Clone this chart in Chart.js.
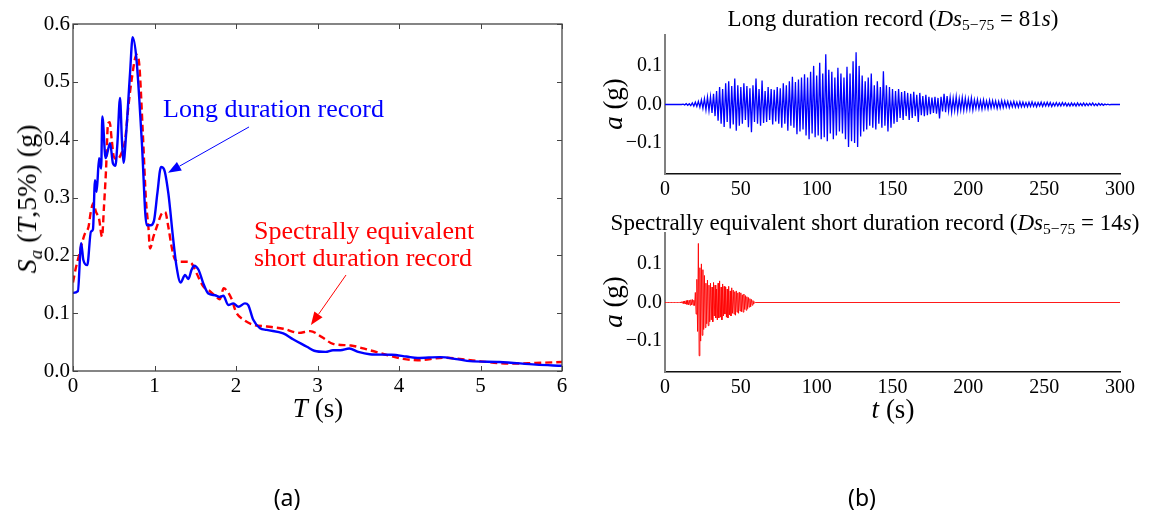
<!DOCTYPE html>
<html>
<head>
<meta charset="utf-8">
<script src="https://cdn.jsdelivr.net/npm/chart.js@4.4.0/dist/chart.umd.min.js"></script>
<style>
body { margin: 0; background: #fff; }
#fig { position: relative; width: 1152px; height: 515px; overflow: hidden; font-family: 'Liberation Serif', serif; color: #000; }
canvas { position: absolute; }
.lbl { position: absolute; white-space: nowrap; transform: translate(-50%, -50%); line-height: 1; }
.rot { transform: translate(-50%, -50%) rotate(-90deg); }
.left { transform: translate(0, -50%); }
sub { font-size: 68%; vertical-align: -0.3em; line-height: 0; }
.cap { font-family: 'Noto Sans', sans-serif; font-size: 23px; }
</style>
</head>
<body>
<div id="fig">
  <canvas id="spectra" width="600" height="430" style="left:0;top:0"></canvas>
  <canvas id="longRec" width="552" height="215" style="left:600px;top:0"></canvas>
  <canvas id="shortRec" width="552" height="215" style="left:600px;top:215px"></canvas>

  <div class="lbl rot" style="left:27px;top:199px;font-size:28px"><i>S<sub>a</sub></i> (<i>T</i>,5%) (g)</div>
  <div class="lbl" style="left:318px;top:408px;font-size:27px"><i>T</i> (s)</div>
  <div class="lbl left" style="left:163px;top:109px;font-size:26px;color:#0000ff">Long duration record</div>
  <div class="lbl left" style="left:254px;top:231px;font-size:26px;color:#ff0000">Spectrally equivalent</div>
  <div class="lbl left" style="left:254px;top:258px;font-size:26px;color:#ff0000">short duration record</div>

  <div class="lbl" style="left:893px;top:18px;font-size:23px">Long duration record (<i>Ds</i><sub>5−75</sub> = 81<i>s</i>)</div>
  <div class="lbl" style="left:875px;top:222px;font-size:23px">Spectrally equivalent short duration record (<i>Ds</i><sub>5−75</sub> = 14<i>s</i>)</div>
  <div class="lbl rot" style="left:613px;top:104px;font-size:27px"><i>a</i> (g)</div>
  <div class="lbl rot" style="left:613px;top:302px;font-size:27px"><i>a</i> (g)</div>
  <div class="lbl" style="left:893px;top:409px;font-size:27px"><i>t</i> (s)</div>

  <div class="lbl cap" style="left:287px;top:497px">(a)</div>
  <div class="lbl cap" style="left:862px;top:497px">(b)</div>
</div>
<script>
// (a) response spectra, Sa(T,5%) in g
const longT = [0, 0.06, 0.10, 0.127, 0.175, 0.22, 0.245, 0.27, 0.29, 0.32, 0.345, 0.36, 0.40, 0.455, 0.49, 0.52,
  0.545, 0.577, 0.60, 0.62, 0.65, 0.70, 0.732, 0.78, 0.843, 0.904, 0.953, 0.994, 1.035, 1.08, 1.117, 1.17,
  1.23, 1.27, 1.32, 1.375, 1.415, 1.455, 1.485, 1.54, 1.60, 1.66, 1.743, 1.80, 1.845, 1.905, 1.967, 2.03,
  2.11, 2.15, 2.21, 2.295, 2.376, 2.58, 2.70, 2.87, 2.96, 3.10, 3.19, 3.28, 3.39, 3.50, 3.64, 3.91, 4.09,
  4.23, 4.5, 4.73, 4.87, 5.23, 5.68, 6.0];
const longSa = [0.135, 0.138, 0.221, 0.192, 0.183, 0.241, 0.245, 0.33, 0.31, 0.368, 0.35, 0.44, 0.368, 0.394, 0.359, 0.355,
  0.394, 0.472, 0.40, 0.36, 0.406, 0.515, 0.577, 0.537, 0.40, 0.252, 0.252, 0.26, 0.307, 0.353, 0.349, 0.307,
  0.227, 0.181, 0.153, 0.166, 0.159, 0.175, 0.182, 0.175, 0.151, 0.134, 0.131, 0.128, 0.13, 0.114, 0.117, 0.111,
  0.117, 0.114, 0.089, 0.074, 0.071, 0.065, 0.055, 0.042, 0.035, 0.033, 0.036, 0.036, 0.039, 0.033, 0.029, 0.028, 0.025,
  0.0225, 0.024, 0.02, 0.017, 0.0156, 0.011, 0.009];

const shortT = [0, 0.03, 0.07, 0.11, 0.147, 0.19, 0.218, 0.25, 0.282, 0.32, 0.356, 0.38, 0.405, 0.43, 0.45, 0.475,
  0.50, 0.54, 0.596, 0.64, 0.68, 0.72, 0.78, 0.813, 0.855, 0.895, 0.925, 0.945, 0.986, 1.027, 1.088, 1.13,
  1.17, 1.21, 1.25, 1.31, 1.395, 1.455, 1.516, 1.60, 1.68, 1.76, 1.80, 1.85, 1.88, 1.945, 2.0, 2.09,
  2.21, 2.38, 2.58, 2.77, 2.91, 3.05, 3.19, 3.41, 3.64, 3.87, 4.05, 4.23, 4.55, 4.82, 5.0, 5.37, 5.68, 6.0];
const shortSa = [0.153, 0.175, 0.198, 0.221, 0.238, 0.249, 0.275, 0.29, 0.275, 0.263, 0.232, 0.284, 0.347, 0.428, 0.43, 0.40,
  0.371, 0.366, 0.377, 0.40, 0.458, 0.504, 0.547, 0.53, 0.417, 0.296, 0.249, 0.212, 0.232, 0.249, 0.272, 0.275,
  0.249, 0.215, 0.193, 0.189, 0.189, 0.186, 0.169, 0.146, 0.138, 0.128, 0.124, 0.143, 0.14, 0.125, 0.102, 0.089,
  0.08, 0.077, 0.073, 0.066, 0.069, 0.059, 0.047, 0.044, 0.036, 0.027, 0.021, 0.0185, 0.023, 0.0196, 0.0167, 0.0127, 0.014, 0.0156];

const periodTicks = [0, 1, 2, 3, 4, 5, 6];
const saTicks = [0, 0.1, 0.2, 0.3, 0.4, 0.5, 0.6];

// (b) acceleration records in g, read peak by peak
const longDt = 1; // s
const longAccel = [
  0, 0, 0, 0, 0, 0, 0, 0, 0, 0,
  0, 0, 0.001, -0.001, 0.002, -0.002, 0.002, -0.003, 0.004, -0.004,
  0.006, -0.005, 0.008, -0.007, 0.012, -0.01, 0.015, -0.014, 0.019, -0.016,
  0.02, -0.022, 0.028, -0.03, 0.035, -0.042, 0.045, -0.05, 0.04, -0.058,
  0.055, -0.045, 0.06, -0.062, 0.048, -0.052, 0.067, -0.068, 0.05, -0.055,
  0.045, -0.05, 0.055, -0.04, 0.048, -0.059, 0.042, -0.072, 0.05, -0.045,
  0.067, -0.05, 0.04, -0.055, 0.062, -0.048, 0.035, -0.045, 0.045, -0.04,
  0.04, -0.052, 0.038, -0.044, 0.045, -0.05, 0.042, -0.06, 0.055, -0.05,
  0.05, -0.068, 0.06, -0.055, 0.072, -0.06, 0.058, -0.077, 0.065, -0.07,
  0.07, -0.065, 0.078, -0.08, 0.07, -0.09, 0.085, -0.075, 0.1, -0.085,
  0.075, -0.08, 0.108, -0.09, 0.08, -0.085, 0.13, -0.095, 0.09, -0.075,
  0.085, -0.09, 0.07, -0.08, 0.095, -0.07, 0.08, -0.075, 0.07, -0.09,
  0.098, -0.11, 0.08, -0.095, 0.112, -0.1, 0.135, -0.11, 0.1, -0.083,
  0.075, -0.07, 0.06, -0.065, 0.07, -0.055, 0.08, -0.06, 0.05, -0.065,
  0.06, -0.05, 0.045, -0.06, 0.086, -0.055, 0.05, -0.07, 0.045, -0.06,
  0.04, -0.05, 0.035, -0.045, 0.04, -0.035, 0.032, -0.04, 0.035, -0.03,
  0.03, -0.04, 0.028, -0.035, 0.033, -0.03, 0.025, -0.045, 0.03, -0.028,
  0.022, -0.03, 0.025, -0.028, 0.02, -0.025, 0.018, -0.022, 0.02, -0.024,
  0.017, -0.036, 0.02, -0.018, 0.028, -0.02, 0.022, -0.016, 0.018, -0.02,
  0.016, -0.015, 0.02, -0.018, 0.015, -0.014, 0.018, -0.015, 0.016, -0.013,
  0.014, -0.012, 0.017, -0.014, 0.012, -0.01, 0.013, -0.011, 0.01, -0.012,
  0.012, -0.01, 0.009, -0.011, 0.011, -0.009, 0.01, -0.008, 0.009, -0.01,
  0.008, -0.009, 0.01, -0.008, 0.009, -0.007, 0.008, -0.008, 0.007, -0.006,
  0.008, -0.007, 0.006, -0.007, 0.007, -0.006, 0.006, -0.006, 0.005, -0.006,
  0.006, -0.005, 0.007, -0.005, 0.005, -0.006, 0.005, -0.004, 0.006, -0.005,
  0.005, -0.004, 0.006, -0.004, 0.005, -0.005, 0.004, -0.004, 0.005, -0.004,
  0.004, -0.004, 0.005, -0.003, 0.004, -0.004, 0.003, -0.004, 0.004, -0.003,
  0.003, -0.004, 0.004, -0.003, 0.003, -0.003, 0.004, -0.003, 0.003, -0.003,
  0.003, -0.002, 0.004, -0.003, 0.002, -0.003, 0.003, -0.002, 0.002, -0.002,
  0.001, -0.001, 0.001, -0.001, 0, 0, 0, 0, 0, 0, 0
];

const shortDt = 0.5; // s
const shortAccel = [
  0, 0, 0, 0, 0, 0, 0, 0, 0, 0, 0, 0, 0, 0, 0, 0, 0, 0, 0, 0,
  0.001, -0.001, 0.002, -0.002, 0.003, -0.003, 0.004, -0.004, 0.005, -0.005,
  0.006, -0.006, 0.006, -0.007, 0.007, -0.006, 0.008, -0.007, 0.006, -0.008,
  0.026, -0.03, 0.06, -0.075, 0.153, -0.138, 0.09, -0.1, 0.1, -0.085,
  0.085, -0.07, 0.07, -0.065, 0.05, -0.055, 0.058, -0.06, 0.045, -0.05,
  0.05, -0.045, 0.04, -0.05, 0.052, -0.035, 0.045, -0.04, 0.035, -0.045,
  0.05, -0.04, 0.056, -0.038, 0.04, -0.045, 0.048, -0.035, 0.042, -0.03,
  0.04, -0.038, 0.035, -0.04, 0.042, -0.032, 0.03, -0.035, 0.038, -0.028,
  0.032, -0.03, 0.028, -0.033, 0.03, -0.025, 0.025, -0.028, 0.027, -0.022,
  0.025, -0.024, 0.02, -0.025, 0.022, -0.018, 0.018, -0.02, 0.015, -0.016,
  0.013, -0.012, 0.01, -0.011, 0.008, -0.007, 0.005, -0.004, 0.002, 0,
  0
];
const recordLength = 300; // s, short record is zero after its last sample

const timeTicks = [0, 50, 100, 150, 200, 250, 300];
const accelTicks = [-0.1, 0, 0.1];

const serif = 'Liberation Serif';

// annotation arrows in data units of (a)
const arrows = [
  { from: [2.16, 0.422], to: [1.166, 0.343], color: '#0000ff' },
  { from: [3.35, 0.166], to: [2.92, 0.0795], color: '#ff0000' }
];

const boxTicks = {
  id: 'boxTicks',
  afterDraw(chart) {
    let { ctx, chartArea: a, scales: { x, y } } = chart;
    ctx.save();
    ctx.strokeStyle = '#444';
    ctx.lineWidth = 1.3;
    ctx.strokeRect(a.left, a.top, a.right - a.left, a.bottom - a.top);
    ctx.lineWidth = 1;
    ctx.beginPath();
    x.ticks.forEach(t => {
      let px = Math.round(x.getPixelForValue(t.value)) + 0.5;
      ctx.moveTo(px, a.bottom); ctx.lineTo(px, a.bottom - 5);
      ctx.moveTo(px, a.top); ctx.lineTo(px, a.top + 5);
    });
    y.ticks.forEach(t => {
      let py = Math.round(y.getPixelForValue(t.value)) + 0.5;
      ctx.moveTo(a.left, py); ctx.lineTo(a.left + 5, py);
      ctx.moveTo(a.right, py); ctx.lineTo(a.right - 5, py);
    });
    ctx.stroke();
    ctx.restore();
  }
};

const arrowPlugin = {
  id: 'arrows',
  afterDatasetsDraw(chart) {
    let { ctx, scales: { x, y } } = chart;
    ctx.save();
    arrows.forEach(ar => {
      let x0 = x.getPixelForValue(ar.from[0]), y0 = y.getPixelForValue(ar.from[1]);
      let x1 = x.getPixelForValue(ar.to[0]), y1 = y.getPixelForValue(ar.to[1]);
      let ang = Math.atan2(y1 - y0, x1 - x0);
      let len = 13, half = 5;
      let bx = x1 - len * Math.cos(ang), by = y1 - len * Math.sin(ang);
      ctx.strokeStyle = ar.color;
      ctx.fillStyle = ar.color;
      ctx.lineWidth = 1;
      ctx.beginPath();
      ctx.moveTo(x0, y0);
      ctx.lineTo(bx, by);
      ctx.stroke();
      ctx.beginPath();
      ctx.moveTo(x1, y1);
      ctx.lineTo(bx + half * Math.sin(ang), by - half * Math.cos(ang));
      ctx.lineTo(bx - half * Math.sin(ang), by + half * Math.cos(ang));
      ctx.closePath();
      ctx.fill();
    });
    ctx.restore();
  }
};

function xy(xs, ys) {
  return xs.map((v, i) => ({ x: v, y: ys[i] }));
}

new Chart(document.getElementById('spectra'), {
  type: 'line',
  data: {
    datasets: [
      {
        label: 'Long duration record',
        data: xy(longT, longSa),
        borderColor: '#0000ff',
        borderWidth: 2.4,
        pointRadius: 0,
        cubicInterpolationMode: 'monotone'
      },
      {
        label: 'Spectrally equivalent short duration record',
        data: xy(shortT, shortSa),
        borderColor: '#ff0000',
        borderWidth: 2.4,
        borderDash: [7, 4],
        pointRadius: 0,
        cubicInterpolationMode: 'monotone'
      }
    ]
  },
  options: {
    responsive: false,
    animation: false,
    devicePixelRatio: 1,
    layout: { padding: { top: 24, right: 38, left: 0, bottom: 0 } },
    plugins: { legend: { display: false }, tooltip: { enabled: false } },
    scales: {
      x: {
        type: 'linear', min: 0, max: 6,
        afterBuildTicks: s => { s.ticks = periodTicks.map(v => ({ value: v })); },
        ticks: { color: '#000', font: { family: serif, size: 21 }, padding: 3, maxRotation: 0, callback: v => String(v) },
        grid: { display: false, drawTicks: false },
        border: { display: false },
        afterFit: s => { s.height = 59; }
      },
      y: {
        min: 0, max: 0.6,
        afterBuildTicks: s => { s.ticks = saTicks.map(v => ({ value: v })); },
        ticks: { color: '#000', font: { family: serif, size: 21 }, padding: 3, callback: v => v.toFixed(1) },
        grid: { display: false, drawTicks: false },
        border: { display: false },
        afterFit: s => { s.width = 73; }
      }
    }
  },
  plugins: [boxTicks, arrowPlugin]
});

function accelChart(id, points, color, width, padTop) {
  return new Chart(document.getElementById(id), {
    type: 'line',
    data: {
      datasets: [{
        data: points,
        borderColor: color,
        borderWidth: width,
        pointRadius: 0,
        tension: 0
      }]
    },
    options: {
      responsive: false,
      animation: false,
      devicePixelRatio: 1,
      layout: { padding: { top: padTop, right: 32, left: 0, bottom: 0 } },
      plugins: { legend: { display: false }, tooltip: { enabled: false } },
      scales: {
        x: {
          type: 'linear', min: 0, max: 300,
          afterBuildTicks: s => { s.ticks = timeTicks.map(v => ({ value: v })); },
          ticks: { color: '#000', font: { family: serif, size: 20 }, padding: 4, maxRotation: 0, callback: v => String(v) },
          grid: { display: false, drawTicks: false },
          border: { display: true, color: '#111', width: 1.6 },
          afterFit: s => { s.height = 215 - padTop - 139; }
        },
        y: {
          min: -0.18, max: 0.18,
          afterBuildTicks: s => { s.ticks = accelTicks.map(v => ({ value: v })); },
          ticks: {
            color: '#000', font: { family: serif, size: 20 }, padding: 3,
            callback: v => (v < 0 ? '\u2212' + Math.abs(v).toFixed(1) : v.toFixed(1))
          },
          grid: { display: false, drawTicks: false },
          border: { display: true, color: '#808080', width: 2 },
          afterFit: s => { s.width = 65; }
        }
      }
    }
  });
}

let longPts = longAccel.map((v, i) => ({ x: i * longDt, y: v }));
let shortPts = shortAccel.map((v, i) => ({ x: i * shortDt, y: v }));
shortPts.push({ x: recordLength, y: 0 });

accelChart('longRec', longPts, '#0000ff', 1.3, 35);
accelChart('shortRec', shortPts, '#ff0000', 0.9, 18);
</script>
</body>
</html>
